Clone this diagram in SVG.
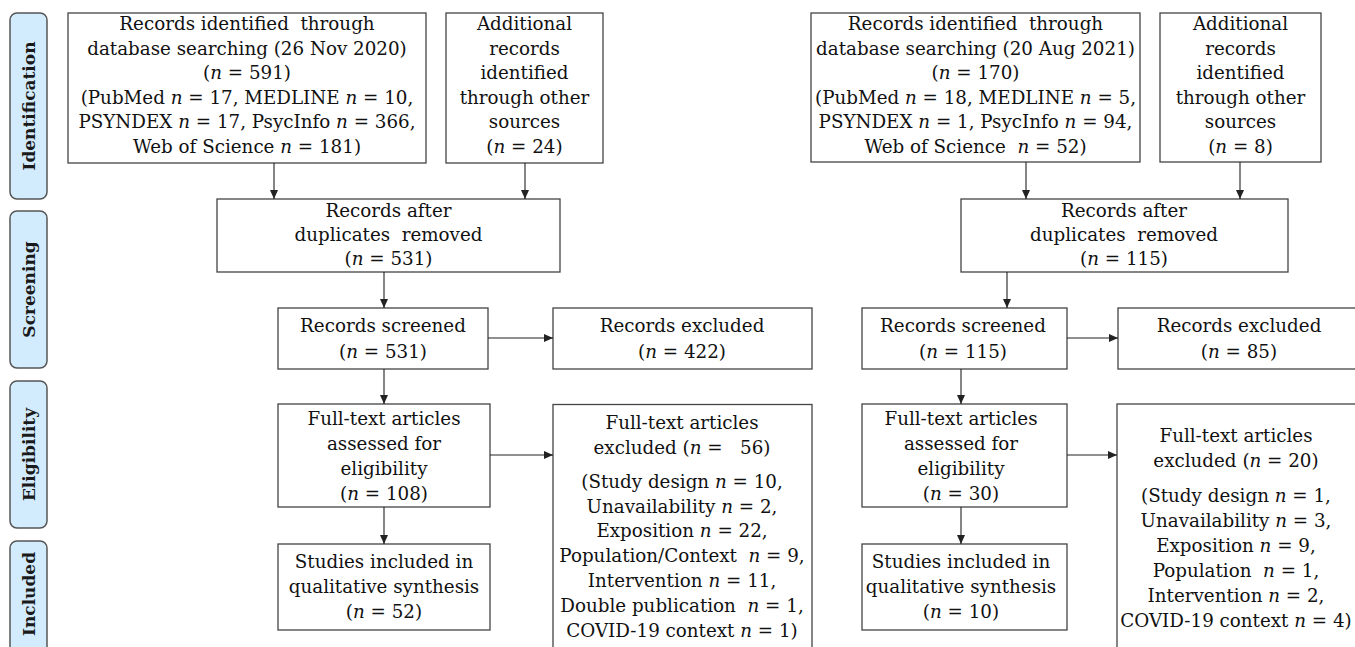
<svg xmlns="http://www.w3.org/2000/svg" width="1355" height="647" viewBox="0 0 1355 647">
<style>
.bg{fill:#ffffff}
.box{fill:#ffffff;stroke:#444444;stroke-width:1.3}
.lbl{fill:#d3ecfd;stroke:#555555;stroke-width:1.5}
.t{font-family:'DejaVu Serif','Liberation Serif',serif;font-size:18.3px;fill:#111111;text-anchor:middle}
.h{font-family:'DejaVu Serif','Liberation Serif',serif;font-size:17px;font-weight:bold;fill:#1a1a1a;text-anchor:middle}
.i{font-style:italic}
.c{fill:none;stroke:#222222;stroke-width:1.1}
</style>
<defs>
<marker id="arr" markerUnits="userSpaceOnUse" markerWidth="10" markerHeight="9" refX="9" refY="4" orient="auto">
<path d="M0,0 L9,4 L0,8 z" fill="#222222"/>
</marker>
</defs>
<rect class="bg" x="0" y="0" width="1355" height="647"/>

<g id="stage-identification">
<rect class="lbl" x="10" y="13" width="37" height="186" rx="7"/>
<text class="h" transform="translate(34.5,106) rotate(-90)">Identification</text>
</g>
<g id="stage-screening">
<rect class="lbl" x="10" y="211" width="37" height="157" rx="7"/>
<text class="h" transform="translate(34.5,289.5) rotate(-90)">Screening</text>
</g>
<g id="stage-eligibility">
<rect class="lbl" x="10" y="381" width="37" height="147" rx="7"/>
<text class="h" transform="translate(34.5,454.5) rotate(-90)">Eligibility</text>
</g>
<g id="stage-included">
<rect class="lbl" x="10" y="541" width="37" height="120" rx="7"/>
<text class="h" transform="translate(34.5,594) rotate(-90)">Included</text>
</g>

<!-- Left flow -->
<g id="L-db">
<rect class="box" x="68" y="13" width="358" height="150"/>
<text class="t" x="247" y="30">Records identified&#160; through</text>
<text class="t" x="247" y="55">database searching (26 Nov 2020)</text>
<text class="t" x="247" y="79">(<tspan class="i">n</tspan> = 591)</text>
<text class="t" x="247" y="104">(PubMed <tspan class="i">n</tspan> = 17, MEDLINE <tspan class="i">n</tspan> = 10,</text>
<text class="t" x="247" y="128">PSYNDEX <tspan class="i">n</tspan> = 17, PsycInfo <tspan class="i">n</tspan> = 366,</text>
<text class="t" x="247" y="153">Web of Science <tspan class="i">n</tspan> = 181)</text>
</g>
<g id="L-other">
<rect class="box" x="446" y="13" width="157" height="150"/>
<text class="t" x="524.5" y="30">Additional</text>
<text class="t" x="524.5" y="55">records</text>
<text class="t" x="524.5" y="79">identified</text>
<text class="t" x="524.5" y="104">through other</text>
<text class="t" x="524.5" y="128">sources</text>
<text class="t" x="524.5" y="153">(<tspan class="i">n</tspan> = 24)</text>
</g>
<g id="L-dup">
<rect class="box" x="217" y="199" width="343" height="73"/>
<text class="t" x="388.5" y="217">Records after</text>
<text class="t" x="388.5" y="241">duplicates&#160; removed</text>
<text class="t" x="388.5" y="265">(<tspan class="i">n</tspan> = 531)</text>
</g>
<g id="L-screened">
<rect class="box" x="278" y="308" width="210" height="61"/>
<text class="t" x="383" y="332">Records screened</text>
<text class="t" x="383" y="358">(<tspan class="i">n</tspan> = 531)</text>
</g>
<g id="L-excluded">
<rect class="box" x="553" y="308" width="259" height="61"/>
<text class="t" x="682" y="332">Records excluded</text>
<text class="t" x="682" y="358">(<tspan class="i">n</tspan> = 422)</text>
</g>
<g id="L-assessed">
<rect class="box" x="278" y="404" width="212" height="103"/>
<text class="t" x="384" y="425">Full-text articles</text>
<text class="t" x="384" y="450">assessed for</text>
<text class="t" x="384" y="475">eligibility</text>
<text class="t" x="384" y="500">(<tspan class="i">n</tspan> = 108)</text>
</g>
<g id="L-ftexcluded">
<rect class="box" x="553" y="404.5" width="259" height="260"/>
<text class="t" x="682" y="429">Full-text articles</text>
<text class="t" x="682" y="454">excluded (<tspan class="i">n</tspan> =&#160;&#160; 56)</text>
<text class="t" x="682" y="488">(Study design <tspan class="i">n</tspan> = 10,</text>
<text class="t" x="682" y="512.5">Unavailability <tspan class="i">n</tspan> = 2,</text>
<text class="t" x="682" y="537">Exposition <tspan class="i">n</tspan> = 22,</text>
<text class="t" x="682" y="562">Population/Context&#160; <tspan class="i">n</tspan> = 9,</text>
<text class="t" x="682" y="587">Intervention <tspan class="i">n</tspan> = 11,</text>
<text class="t" x="682" y="612">Double publication&#160; <tspan class="i">n</tspan> = 1,</text>
<text class="t" x="682" y="637">COVID-19 context <tspan class="i">n</tspan> = 1)</text>
</g>
<g id="L-included">
<rect class="box" x="278" y="544" width="212" height="86"/>
<text class="t" x="384" y="568">Studies included in</text>
<text class="t" x="384" y="593">qualitative synthesis</text>
<text class="t" x="384" y="618">(<tspan class="i">n</tspan> = 52)</text>
</g>

<!-- Right flow -->
<g id="R-db">
<rect class="box" x="811" y="13" width="329" height="149"/>
<text class="t" x="975.5" y="30">Records identified&#160; through</text>
<text class="t" x="975.5" y="55">database searching (20 Aug 2021)</text>
<text class="t" x="975.5" y="79">(<tspan class="i">n</tspan> = 170)</text>
<text class="t" x="975.5" y="104">(PubMed <tspan class="i">n</tspan> = 18, MEDLINE <tspan class="i">n</tspan> = 5,</text>
<text class="t" x="975.5" y="128">PSYNDEX <tspan class="i">n</tspan> = 1, PsycInfo <tspan class="i">n</tspan> = 94,</text>
<text class="t" x="975.5" y="153">Web of Science&#160; <tspan class="i">n</tspan> = 52)</text>
</g>
<g id="R-other">
<rect class="box" x="1160" y="13" width="161" height="149"/>
<text class="t" x="1240.5" y="30">Additional</text>
<text class="t" x="1240.5" y="55">records</text>
<text class="t" x="1240.5" y="79">identified</text>
<text class="t" x="1240.5" y="104">through other</text>
<text class="t" x="1240.5" y="128">sources</text>
<text class="t" x="1240.5" y="153">(<tspan class="i">n</tspan> = 8)</text>
</g>
<g id="R-dup">
<rect class="box" x="961" y="199" width="327" height="73"/>
<text class="t" x="1124" y="217">Records after</text>
<text class="t" x="1124" y="241">duplicates&#160; removed</text>
<text class="t" x="1124" y="265">(<tspan class="i">n</tspan> = 115)</text>
</g>
<g id="R-screened">
<rect class="box" x="862" y="308" width="205" height="61"/>
<text class="t" x="963" y="332">Records screened</text>
<text class="t" x="963" y="358">(<tspan class="i">n</tspan> = 115)</text>
</g>
<g id="R-excluded">
<rect class="box" x="1118" y="308" width="245" height="61"/>
<text class="t" x="1239" y="332">Records excluded</text>
<text class="t" x="1239" y="358">(<tspan class="i">n</tspan> = 85)</text>
</g>
<g id="R-assessed">
<rect class="box" x="862" y="404" width="205" height="103"/>
<text class="t" x="961" y="425">Full-text articles</text>
<text class="t" x="961" y="450">assessed for</text>
<text class="t" x="961" y="475">eligibility</text>
<text class="t" x="961" y="500">(<tspan class="i">n</tspan> = 30)</text>
</g>
<g id="R-ftexcluded">
<rect class="box" x="1117" y="404" width="246" height="260"/>
<text class="t" x="1236" y="442">Full-text articles</text>
<text class="t" x="1236" y="467">excluded (<tspan class="i">n</tspan> = 20)</text>
<text class="t" x="1236" y="502">(Study design <tspan class="i">n</tspan> = 1,</text>
<text class="t" x="1236" y="527">Unavailability <tspan class="i">n</tspan> = 3,</text>
<text class="t" x="1236" y="552">Exposition <tspan class="i">n</tspan> = 9,</text>
<text class="t" x="1236" y="577">Population&#160; <tspan class="i">n</tspan> = 1,</text>
<text class="t" x="1236" y="602">Intervention <tspan class="i">n</tspan> = 2,</text>
<text class="t" x="1236" y="627">COVID-19 context <tspan class="i">n</tspan> = 4)</text>
</g>
<g id="R-included">
<rect class="box" x="862" y="544" width="205" height="86"/>
<text class="t" x="961" y="568">Studies included in</text>
<text class="t" x="961" y="593">qualitative synthesis</text>
<text class="t" x="961" y="618">(<tspan class="i">n</tspan> = 10)</text>
</g>

<g id="connectors">
<path class="c" d="M274,163 L274,199" marker-end="url(#arr)"/>
<path class="c" d="M525,163 L525,199" marker-end="url(#arr)"/>
<path class="c" d="M384,272 L384,308" marker-end="url(#arr)"/>
<path class="c" d="M488,338 L553,338" marker-end="url(#arr)"/>
<path class="c" d="M384,369 L384,404" marker-end="url(#arr)"/>
<path class="c" d="M490,455 L553,455" marker-end="url(#arr)"/>
<path class="c" d="M384,507 L384,544" marker-end="url(#arr)"/>
<path class="c" d="M1026,162 L1026,199" marker-end="url(#arr)"/>
<path class="c" d="M1240,162 L1240,199" marker-end="url(#arr)"/>
<path class="c" d="M1007,272 L1007,308" marker-end="url(#arr)"/>
<path class="c" d="M1067,338 L1118,338" marker-end="url(#arr)"/>
<path class="c" d="M961,369 L961,404" marker-end="url(#arr)"/>
<path class="c" d="M1067,455 L1117,455" marker-end="url(#arr)"/>
<path class="c" d="M961,507 L961,544" marker-end="url(#arr)"/>
</g>
</svg>
